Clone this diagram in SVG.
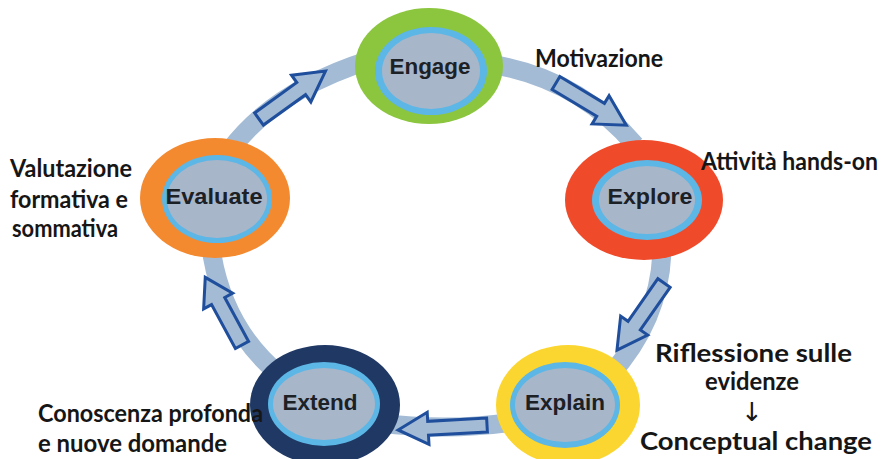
<svg xmlns="http://www.w3.org/2000/svg" width="885" height="459" viewBox="0 0 885 459">
<style>
.band{fill:none;stroke:#a3bbd5;stroke-width:19;stroke-linecap:butt}
.arr{fill:#a3bbd5;stroke:#1f4e9c;stroke-width:3;stroke-linejoin:miter}
.ring{fill:#5cb6e6}
.core{fill:#a8b6ca}
.nt{font-family:"Liberation Sans",Arial,sans-serif;font-weight:700;font-size:22px;fill:#1c2126;text-anchor:middle}
.lb{font-family:Lato,"Open Sans",sans-serif;font-weight:700;font-size:24px;fill:#161616}
</style>
<rect width="885" height="459" fill="#ffffff"/>
<g id="connectors">
<path class="band" d="M230,150 Q275,90 370,60"/>
<path class="band" d="M490,64 Q578,78 635,145"/>
<path class="band" d="M662,250 Q660,320 610,375"/>
<path class="band" d="M520,421 Q450,432 380,423"/>
<path class="band" d="M280,375 Q225,330 212,255"/>
<polygon class="arr" points="0,-7.5 52,-7.5 52,-16.5 82,0 52,16.5 52,7.5 0,7.5" transform="translate(259,119) rotate(-35.8)"/>
<polygon class="arr" points="0,-7.5 52,-7.5 52,-16.5 82,0 52,16.5 52,7.5 0,7.5" transform="translate(556,83) rotate(31)"/>
<polygon class="arr" points="0,-7.5 52,-7.5 52,-16.5 82,0 52,16.5 52,7.5 0,7.5" transform="translate(664,283) rotate(125)"/>
<polygon class="arr" points="0,-7 59,-7 59,-16 89,0 59,16 59,7 0,7" transform="translate(487,425) rotate(176.8)"/>
<polygon class="arr" points="0,-7.5 50,-7.5 50,-16.5 77,0 50,16.5 50,7.5 0,7.5" transform="translate(242,345) rotate(-118.5)"/>
</g>
<g id="engage">
<ellipse cx="429" cy="66" rx="74" ry="58" fill="#8cc63f"/>
<ellipse class="ring" cx="431" cy="71" rx="56" ry="44"/>
<ellipse class="core" cx="431" cy="71" rx="49" ry="38"/>
<text class="nt" x="430" y="74" textLength="81" lengthAdjust="spacingAndGlyphs">Engage</text>
</g>
<g id="explore">
<ellipse cx="644" cy="200" rx="79" ry="60" fill="#ef4b2a"/>
<ellipse class="ring" cx="647" cy="200" rx="55" ry="40"/>
<ellipse class="core" cx="647" cy="200" rx="48" ry="34"/>
<text class="nt" x="650" y="204" textLength="85" lengthAdjust="spacingAndGlyphs">Explore</text>
</g>
<g id="evaluate">
<ellipse cx="215" cy="198" rx="75" ry="60" fill="#f48a30"/>
<ellipse class="ring" cx="217" cy="199" rx="55" ry="44"/>
<ellipse class="core" cx="217" cy="199" rx="50" ry="39"/>
<text class="nt" x="214" y="204" textLength="97" lengthAdjust="spacingAndGlyphs">Evaluate</text>
</g>
<g id="extend">
<ellipse cx="325" cy="405" rx="75" ry="60" fill="#1f3864"/>
<ellipse class="ring" cx="324" cy="404" rx="56" ry="42"/>
<ellipse class="core" cx="324" cy="404" rx="51" ry="36"/>
<text class="nt" x="320" y="410" textLength="75" lengthAdjust="spacingAndGlyphs">Extend</text>
</g>
<g id="explain">
<ellipse cx="568" cy="405" rx="72" ry="60" fill="#fbd631"/>
<ellipse class="ring" cx="565" cy="405" rx="55" ry="43"/>
<ellipse class="core" cx="565" cy="405" rx="50" ry="37"/>
<text class="nt" x="565" y="410" textLength="80" lengthAdjust="spacingAndGlyphs">Explain</text>
</g>
<g id="labels">
<text class="lb" x="535" y="67" textLength="128" lengthAdjust="spacingAndGlyphs">Motivazione</text>
<text class="lb" x="701" y="170" textLength="177" lengthAdjust="spacingAndGlyphs">Attività hands-on</text>
<text class="lb" x="10" y="177" textLength="122" lengthAdjust="spacingAndGlyphs">Valutazione</text>
<text class="lb" x="10" y="208" textLength="118" lengthAdjust="spacingAndGlyphs">formativa e</text>
<text class="lb" x="12" y="237" textLength="106" lengthAdjust="spacingAndGlyphs">sommativa</text>
<text class="lb" x="38" y="422" textLength="225" lengthAdjust="spacingAndGlyphs">Conoscenza profonda</text>
<text class="lb" x="38" y="452" textLength="189" lengthAdjust="spacingAndGlyphs">e nuove domande</text>
<text class="lb" x="655" y="362" textLength="197" lengthAdjust="spacingAndGlyphs">Riflessione sulle</text>
<text class="lb" x="705" y="390" textLength="94" lengthAdjust="spacingAndGlyphs">evidenze</text>
<text x="752" y="421" font-family="DejaVu Sans,sans-serif" font-size="26" fill="#161616" text-anchor="middle">↓</text>
<text class="lb" x="640" y="450" textLength="232" lengthAdjust="spacingAndGlyphs">Conceptual change</text>
</g>
</svg>
